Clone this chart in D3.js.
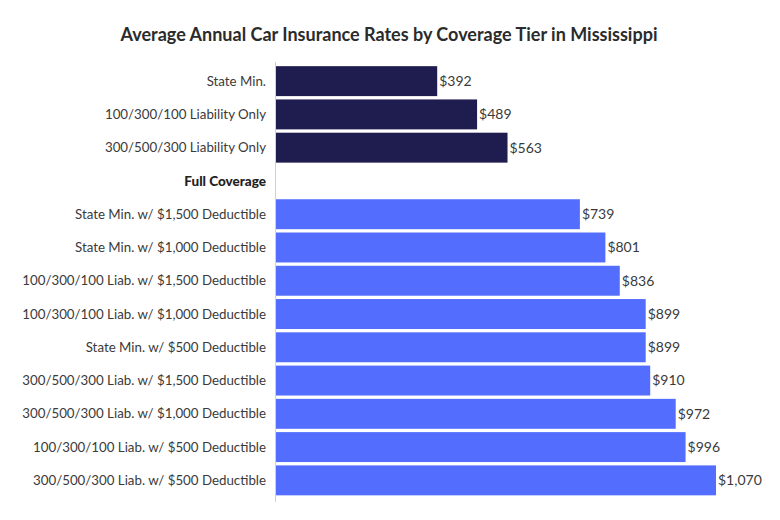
<!DOCTYPE html>
<html>
<head>
<meta charset="utf-8">
<script src="https://cdn.jsdelivr.net/npm/d3@7/dist/d3.min.js"></script>
<style>
  html, body { margin: 0; padding: 0; background: #fff; }
  svg { display: block; }
</style>
</head>
<body>
<svg id="chart" width="780" height="520"></svg>
<script>
const title = "Average Annual Car Insurance Rates by Coverage Tier in Mississippi";
const categories = [
  "State Min.",
  "100/300/100 Liability Only",
  "300/500/300 Liability Only",
  "Full Coverage",
  "State Min. w/ $1,500 Deductible",
  "State Min. w/ $1,000 Deductible",
  "100/300/100 Liab. w/ $1,500 Deductible",
  "100/300/100 Liab. w/ $1,000 Deductible",
  "State Min. w/ $500 Deductible",
  "300/500/300 Liab. w/ $1,500 Deductible",
  "300/500/300 Liab. w/ $1,000 Deductible",
  "100/300/100 Liab. w/ $500 Deductible",
  "300/500/300 Liab. w/ $500 Deductible"
];
const values = [392, 489, 563, null, 739, 801, 836, 899, 899, 910, 972, 996, 1070];
const groups = ["liability", "liability", "liability", "header", "full", "full", "full", "full", "full", "full", "full", "full", "full"];

const colors = { liability: "#1f1c4f", full: "#536dfe" };

const svg = d3.select("#chart");
const x0 = 276;

const x = d3.scaleLinear().domain([0, 1070]).range([x0, 716]);
const y = d3.scaleBand().domain(categories).range([64.5, 497]).paddingInner(0.1).paddingOuter(0.05);

svg.append("text")
  .attr("x", 389).attr("y", 41)
  .attr("text-anchor", "middle")
  .attr("font-family", "Lato, sans-serif")
  .attr("font-weight", 700)
  .attr("font-size", 18)
  .attr("fill", "#2b2b2b")
  .text(title);

const rows = categories.map((c, i) => ({ cat: c, value: values[i], group: groups[i] }));

svg.append("g").selectAll("rect")
  .data(rows.filter(d => d.value != null))
  .join("rect")
  .attr("x", x(0))
  .attr("y", d => y(d.cat))
  .attr("width", d => x(d.value) - x(0))
  .attr("height", y.bandwidth())
  .attr("fill", d => colors[d.group]);

// axis line
svg.append("line")
  .attr("x1", x0 - 0.5).attr("x2", x0 - 0.5)
  .attr("y1", 62).attr("y2", 502)
  .attr("stroke", "#d0d0d0").attr("stroke-width", 1);

// category labels
svg.append("g").selectAll("text")
  .data(rows)
  .join("text")
  .attr("x", x0 - 10)
  .attr("y", d => y(d.cat) + y.bandwidth() / 2)
  .attr("dy", "0.35em")
  .attr("text-anchor", "end")
  .attr("font-family", "Lato, sans-serif")
  .attr("font-weight", d => d.group === "header" ? 900 : 400)
  .attr("font-size", d => d.group === "header" ? 13.5 : 13.3)
  .attr("fill", d => d.group === "header" ? "#222" : "#3a3a3a")
  .text(d => d.cat);

// value labels
const fmt = d3.format("$,");
svg.append("g").selectAll("text")
  .data(rows.filter(d => d.value != null))
  .join("text")
  .attr("x", d => x(d.value) + 2)
  .attr("y", d => y(d.cat) + y.bandwidth() / 2)
  .attr("dy", "0.35em")
  .attr("font-family", "Lato, sans-serif")
  .attr("font-size", 14)
  .attr("fill", "#3a3a3a")
  .text(d => fmt(d.value));
</script>
</body>
</html>
